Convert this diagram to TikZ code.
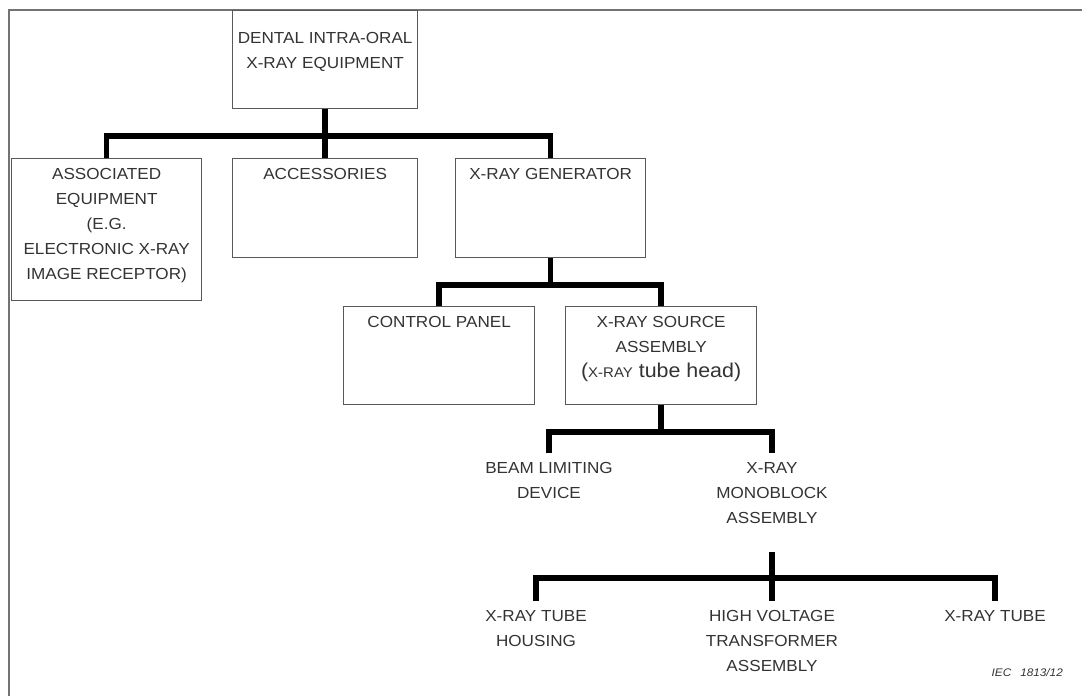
\documentclass[tikz,border=0pt]{standalone}
\usepackage{fontspec}
\newfontfamily\labfont[FakeStretch=1.07]{Liberation Sans}
% #1 width, #2 height, #3 top padding, #4 text
\newcommand\bxt[4]{\parbox[t][#2][t]{#1}{\vspace*{#3}\centering\labfont\fontsize{16}{25}\selectfont #4\par}}
\tikzset{
  box/.style={draw=black!65, line width=1.3pt, inner sep=0pt, anchor=north west, text=black!80},
  plain/.style={inner sep=0pt, anchor=north, text=black!80},
  bus/.style={line width=5.5pt, line join=miter, draw=black},
  frame/.style={draw=black!55, line width=1.5pt}
}
\begin{document}
\begin{tikzpicture}[x=1pt,y=-1pt]
\useasboundingbox (0,0) rectangle (1082,696);
% outer frame
\draw[frame] (1082,10) -- (9,10) -- (9,696);
% boxes
\node[box] (top) at (232,10) {\bxt{185pt}{98pt}{22pt}{DENTAL INTRA-ORAL\\X-RAY EQUIPMENT}};
\node[box] (assoc) at (11,158) {\bxt{190pt}{142pt}{9.5pt}{ASSOCIATED\\EQUIPMENT\\(E.G.\\ELECTRONIC X-RAY\\IMAGE RECEPTOR)}};
\node[box] (acc) at (232,158) {\bxt{185pt}{99pt}{9.5pt}{ACCESSORIES}};
\node[box] (gen) at (455,158) {\bxt{190pt}{99pt}{9.5pt}{X-RAY GENERATOR}};
\node[box] (ctrl) at (343,306) {\bxt{191pt}{98pt}{9.5pt}{CONTROL PANEL}};
\node[box] (src) at (565,306) {\bxt{191pt}{98pt}{9.5pt}{X-RAY SOURCE\\ASSEMBLY\\{\fontsize{20}{25}\selectfont(}{\fontsize{14}{25}\selectfont X-RAY}{\fontsize{20}{25}\selectfont\ tube head)}}};
% plain labels
\node[plain] (beam) at (549,453) {\bxt{170pt}{60pt}{9.5pt}{BEAM LIMITING\\DEVICE}};
\node[plain] (mono) at (772,453) {\bxt{150pt}{99pt}{9.5pt}{X-RAY\\MONOBLOCK\\ASSEMBLY}};
\node[plain] (hous) at (536,601) {\bxt{150pt}{60pt}{9.5pt}{X-RAY TUBE\\HOUSING}};
\node[plain] (hv) at (772,601) {\bxt{170pt}{80pt}{9.5pt}{HIGH VOLTAGE\\TRANSFORMER\\ASSEMBLY}};
\node[plain] (tube) at (995,601) {\bxt{150pt}{40pt}{9.5pt}{X-RAY TUBE}};
\node[plain, anchor=east] (iec) at (1063,673) {\labfont\itshape\fontsize{11}{13}\selectfont IEC\hspace{9pt}1813/12};
% bus coordinates
\coordinate (b1) at (0,136);
\coordinate (b2) at (0,285);
\coordinate (b3) at (0,432);
\coordinate (b4) at (0,578);
% connectors
\draw[bus] (top.south) -- (acc.north);
\draw[bus] (assoc.north) |- (b1 -| gen.north) -- (gen.north);
\draw[bus] (gen.south) -- (gen.south |- b2);
\draw[bus] (ctrl.north) |- (b2 -| src.north) -- (src.north);
\draw[bus] (src.south) -- (src.south |- b3);
\draw[bus] (beam.north) |- (b3 -| mono.north) -- (mono.north);
\draw[bus] (mono.south) -- (hv.north);
\draw[bus] (hous.north) |- (b4 -| tube.north) -- (tube.north);
\end{tikzpicture}
\end{document}
